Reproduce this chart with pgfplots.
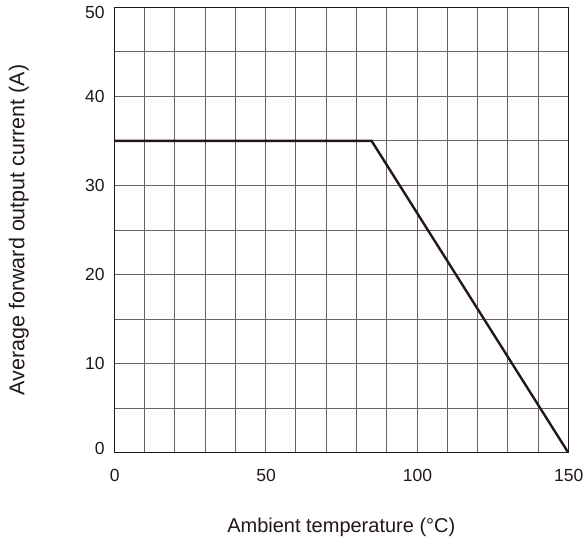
\documentclass[border=0pt]{standalone}
\usepackage{pgfplots}
\pgfplotsset{compat=1.18}
\usepackage{fontspec}
\setmainfont{Liberation Sans}
\definecolor{gridc}{HTML}{6A6262}
\definecolor{linec}{HTML}{231815}
\begin{document}
\begin{tikzpicture}[x=1pt,y=1pt]
\path[use as bounding box] (0,0) rectangle (585,539);
\begin{axis}[
  at={(114.3pt,86.3pt)}, anchor=south west,
  scale only axis, width=454pt, height=445.5pt,
  xmin=0, xmax=150, ymin=0, ymax=50,
  xtick={0,50,100,150}, ytick={0,10,20,30,40,50},
  yticklabels={\raisebox{4.5pt}{0},10,20,30,40,\raisebox{-5pt}{50}},
  minor xtick={10,20,30,40,60,70,80,90,110,120,130,140},
  minor ytick={5,15,25,35,45},
  grid=both,
  major grid style={gridc, line width=0.9pt},
  minor grid style={gridc, line width=0.9pt},
  axis line style={linec, line width=1.1pt},
  tick style={draw=none},
  major tick length=0pt, minor tick length=0pt,
  tick label style={font=\fontsize{17.5}{20}\selectfont, text=linec},
  /pgf/number format/assume math mode=true,
  xticklabel style={anchor=base, inner sep=0pt, yshift=-28.3pt, xshift=0.5pt},
  yticklabel style={anchor=base east, inner sep=0pt, xshift=-9.5pt, yshift=-6.2pt},
  xlabel={Ambient temperature (°C)},
  ylabel={Average forward output current (A)},
  label style={font=\fontsize{20}{24}\selectfont, text=linec},
  xlabel style={at={(axis description cs:0.5,0)}, anchor=base, inner sep=0pt, yshift=-79.3pt},
  ylabel style={at={(axis description cs:0,0.5)}, anchor=base, inner sep=0pt, yshift=90pt, font=\fontsize{21.5}{24}\selectfont},
]
\addplot[linec, line width=2.4pt] coordinates {(0,35) (85,35) (150,0)};
\end{axis}
\end{tikzpicture}
\end{document}
